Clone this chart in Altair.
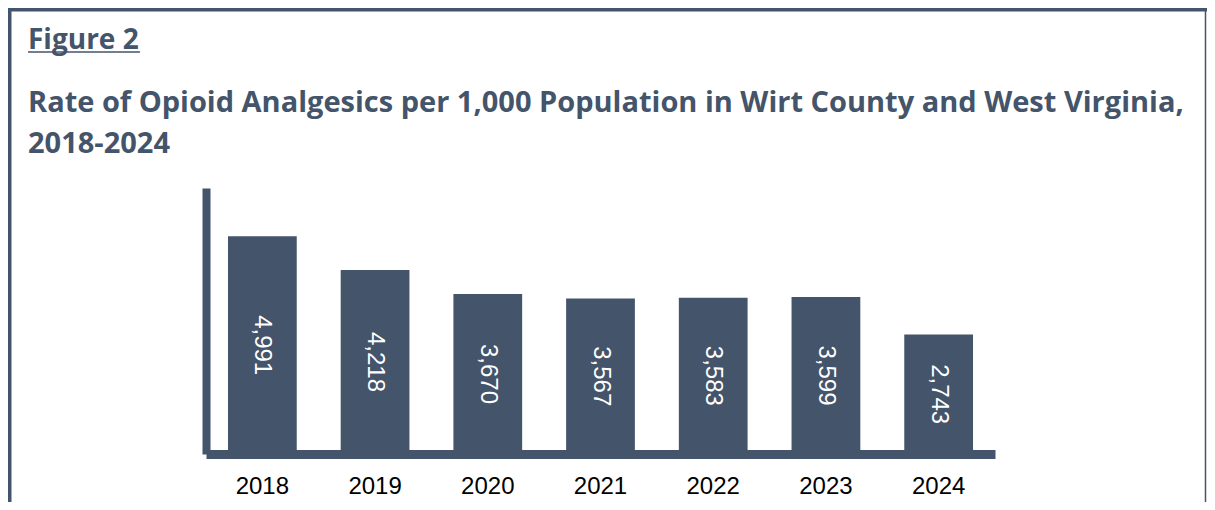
import altair as alt
import pandas as pd

years = ["2018", "2019", "2020", "2021", "2022", "2023", "2024"]
rates = [4991, 4218, 3670, 3567, 3583, 3599, 2743]

fig_label = "Figure 2"
title_lines = [
    "Rate of Opioid Analgesics per 1,000 Population in Wirt County and West Virginia,",
    "2018-2024",
]

SLATE = "#44546A"
W, H = 789, 266
PAD_L, PAD_T, PAD_R, PAD_B = 198, 180, 212, 48

df = pd.DataFrame({"year": years, "rate": rates})
one = pd.DataFrame({"k": [0]})

xenc = alt.X(
    "year:N",
    sort=years,
    scale=alt.Scale(paddingInner=0.39, paddingOuter=0.195),
    axis=alt.Axis(
        title=None, labelAngle=0, ticks=False, tickSize=0,
        domainColor=SLATE, domainWidth=9, labelFont="Liberation Sans",
        labelFontSize=24, labelColor="black", labelPadding=20,
    ),
)
yscale = alt.Scale(domain=[0, 6100], nice=False)

bars = alt.Chart(df).mark_bar(color=SLATE).encode(
    x=xenc,
    y=alt.Y(
        "rate:Q", scale=yscale,
        axis=alt.Axis(title=None, labels=False, ticks=False, grid=False,
                      domainColor=SLATE, domainWidth=8),
    ),
)

vals = alt.Chart(df).transform_calculate(half="datum.rate / 2").mark_text(
    angle=90, align="center", baseline="middle", color="white",
    font="Liberation Sans", fontSize=24,
).encode(
    x=alt.X("year:N", sort=years),
    y=alt.Y("half:Q", scale=yscale),
    text=alt.Text("rate:Q", format=","),
)

fig_text = alt.Chart(one).mark_text(
    align="left", baseline="alphabetic", font="Open Sans", fontWeight="bold",
    fontSize=28, color=SLATE,
).encode(x=alt.value(-178), y=alt.value(-139), text=alt.value(fig_label))

underline = alt.Chart(one).mark_rule(color=SLATE, strokeWidth=1.6).encode(
    x=alt.value(-178), x2=alt.value(-66), y=alt.value(-136)
)

sub_text = alt.Chart(one).mark_text(
    align="left", baseline="alphabetic", font="Open Sans", fontWeight="bold",
    fontSize=29, color=SLATE, lineHeight=41,
).encode(x=alt.value(-178), y=alt.value(-76), text=alt.value(title_lines))

top_border = alt.Chart(one).mark_rule(color=SLATE, strokeWidth=3.5).encode(
    x=alt.value(-PAD_L), x2=alt.value(W + PAD_R), y=alt.value(-PAD_T + 1.75)
)
left_border = alt.Chart(one).mark_rule(color=SLATE, strokeWidth=3.5).encode(
    x=alt.value(-PAD_L + 1.75), y=alt.value(-PAD_T), y2=alt.value(H + PAD_B)
)
right_border = alt.Chart(one).mark_rule(color=SLATE, strokeWidth=1.5).encode(
    x=alt.value(W + PAD_R - 1.5), y=alt.value(-PAD_T), y2=alt.value(H + PAD_B)
)

chart = alt.layer(
    bars, vals, fig_text, underline, sub_text, top_border, left_border, right_border
).properties(
    width=W, height=H,
    autosize=alt.AutoSizeParams(type="none"),
    padding={"left": PAD_L, "top": PAD_T, "right": PAD_R, "bottom": PAD_B},
    background="white",
).configure_view(stroke=None)

chart.save("out.html", embed_options={"renderer": "svg", "actions": False})
